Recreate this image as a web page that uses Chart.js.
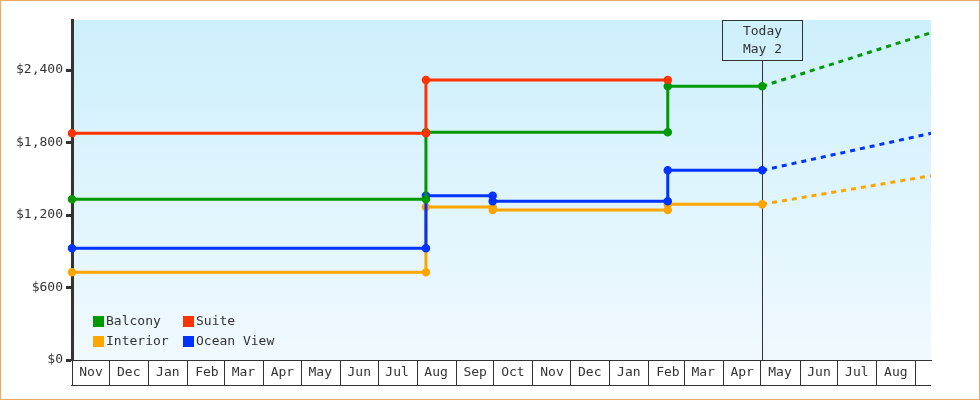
<!DOCTYPE html>
<html>
<head>
<meta charset="utf-8">
<script src="https://cdn.jsdelivr.net/npm/chart.js@4/dist/chart.umd.min.js"></script>
<style>
  html, body { margin: 0; padding: 0; background: #fff; }
  #wrap { width: 980px; height: 400px; }
</style>
</head>
<body>
<div id="wrap"><canvas id="chart" width="980" height="400"></canvas></div>
<script>
// ── Data ──────────────────────────────────────────────────────
const startDate = '2023-11-01';
const endDate = '2025-09-13';
const todayDate = '2025-05-02';
const todayLabel = ['Today', 'May 2'];

const monthLabels = ['Nov', 'Dec', 'Jan', 'Feb', 'Mar', 'Apr', 'May', 'Jun', 'Jul', 'Aug', 'Sep', 'Oct',
  'Nov', 'Dec', 'Jan', 'Feb', 'Mar', 'Apr', 'May', 'Jun', 'Jul', 'Aug', ''];
const yTicks = [0, 600, 1200, 1800, 2400];

const suiteDates = ['2023-11-01', '2024-08-08', '2024-08-08', '2025-02-16'];
const suitePrices = [1876, 1876, 2317, 2317];

const balconyDates = ['2023-11-01', '2024-08-08', '2024-08-08', '2025-02-16', '2025-02-16', '2025-05-02'];
const balconyPrices = [1330, 1330, 1884, 1884, 2265, 2265];

const oceanDates = ['2023-11-01', '2024-08-08', '2024-08-08', '2024-09-30', '2024-09-30', '2025-02-16', '2025-02-16', '2025-05-02'];
const oceanPrices = [924, 924, 1360, 1360, 1314, 1314, 1570, 1570];

const interiorDates = ['2023-11-01', '2024-08-08', '2024-08-08', '2024-09-30', '2024-09-30', '2025-02-16', '2025-02-16', '2025-05-02'];
const interiorPrices = [726, 726, 1266, 1266, 1241, 1241, 1289, 1289];

// forecasts run from today to the right edge
const forecastDates = ['2025-05-02', '2025-09-13'];
const balconyForecast = [2265, 2709];
const oceanForecast = [1570, 1876];
const interiorForecast = [1289, 1525];

const legendOrder = ['Balcony', 'Suite', 'Interior', 'Ocean View'];

const COLORS = {
  'Balcony': '#009900',
  'Suite': '#ff3300',
  'Interior': '#ffa500',
  'Ocean View': '#0033ff',
};
const FONT = '"DejaVu Sans Mono", monospace';
const INK = '#333333';

// ── Helpers ──────────────────────────────────────────────────
const ts = s => Date.parse(s + 'T00:00:00Z');
const toPoints = (dates, values) => dates.map((d, i) => ({ x: ts(d), y: values[i] }));

function stepSet(label, dates, values) {
  return {
    label,
    data: toPoints(dates, values),
    borderColor: COLORS[label],
    backgroundColor: COLORS[label],
    borderWidth: 3,
    pointRadius: 3.5,
    pointBorderWidth: 1.5,
    pointBackgroundColor: COLORS[label],
    pointBorderColor: COLORS[label],
    tension: 0,
    clip: false,
  };
}

function forecastSet(label, values) {
  return {
    label: label + ' forecast',
    forecast: true,
    data: toPoints(forecastDates, values),
    borderColor: COLORS[label],
    borderWidth: 3,
    borderDash: [5, 5],
    pointRadius: 0,
    tension: 0,
  };
}

// month-start ticks, Nov 2023 onwards
const monthTicks = monthLabels.map((_, i) => Date.UTC(2023, 10 + i, 1));

// ── Plugins ──────────────────────────────────────────────────
const backdropPlugin = {
  id: 'backdrop',
  beforeDraw(chart) {
    const { ctx, chartArea: a } = chart;
    const g = ctx.createLinearGradient(0, a.top, 0, a.bottom);
    g.addColorStop(0, '#cdf0fc');
    g.addColorStop(1, '#f0f9fe');
    ctx.save();
    ctx.fillStyle = g;
    ctx.fillRect(a.left, a.top, a.right - a.left, a.bottom - a.top);
    ctx.restore();
  },
  beforeDatasetsDraw(chart) {
    // today marker line
    const { ctx, chartArea: a } = chart;
    const x = Math.round(chart.scales.x.getPixelForValue(ts(todayDate))) + 0.5;
    ctx.save();
    ctx.strokeStyle = INK;
    ctx.lineWidth = 1;
    ctx.beginPath();
    ctx.moveTo(x, a.top + 40);
    ctx.lineTo(x, a.bottom);
    ctx.stroke();
    ctx.restore();
  },
  afterDraw(chart) {
    const { ctx, chartArea: a } = chart;
    const xs = chart.scales.x;
    ctx.save();

    // bottom rule of the month cells
    ctx.strokeStyle = INK;
    ctx.lineWidth = 1;
    ctx.beginPath();
    ctx.moveTo(a.left - 1, a.bottom + 25.5);
    ctx.lineTo(a.right, a.bottom + 25.5);
    ctx.stroke();

    // today box
    const tx = Math.round(xs.getPixelForValue(ts(todayDate))) + 0.5;
    ctx.strokeRect(tx - 40, a.top + 0.5, 80, 40);
    ctx.fillStyle = INK;
    ctx.font = '13px ' + FONT;
    ctx.textAlign = 'center';
    ctx.textBaseline = 'middle';
    ctx.fillText(todayLabel[0], tx, a.top + 12);
    ctx.fillText(todayLabel[1], tx, a.top + 30);

    // legend, two columns
    ctx.textAlign = 'left';
    legendOrder.forEach((name, i) => {
      const col = i % 2, row = Math.floor(i / 2);
      const bx = a.left + 21 + col * 90;
      const by = a.top + 296 + row * 20;
      ctx.fillStyle = COLORS[name];
      ctx.fillRect(bx, by, 11, 11);
      ctx.fillStyle = INK;
      ctx.fillText(name, bx + 13, by + 6);
    });

    // outer frame
    ctx.strokeStyle = '#eaa862';
    ctx.strokeRect(0.5, 0.5, chart.width - 1, chart.height - 1);
    ctx.restore();
  },
};

// ── Chart ────────────────────────────────────────────────────
new Chart(document.getElementById('chart'), {
  type: 'line',
  data: {
    datasets: [
      stepSet('Suite', suiteDates, suitePrices),
      stepSet('Balcony', balconyDates, balconyPrices),
      stepSet('Ocean View', oceanDates, oceanPrices),
      stepSet('Interior', interiorDates, interiorPrices),
      forecastSet('Balcony', balconyForecast),
      forecastSet('Ocean View', oceanForecast),
      forecastSet('Interior', interiorForecast),
    ],
  },
  options: {
    responsive: false,
    animation: false,
    devicePixelRatio: 1,
    layout: { padding: { left: 0, top: 20, right: 49, bottom: 0 } },
    plugins: { legend: { display: false }, tooltip: { enabled: false } },
    scales: {
      x: {
        type: 'linear',
        min: ts(startDate),
        max: ts(endDate),
        afterBuildTicks(scale) {
          scale.ticks = monthTicks.map(v => ({ value: v }));
        },
        afterFit(scale) { scale.height = 40; },
        border: { display: true, color: INK, width: 1 },
        grid: {
          drawOnChartArea: false,
          drawTicks: true,
          tickLength: 25,
          tickWidth: 1,
          tickColor: INK,
          color: INK,
        },
        ticks: {
          autoSkip: false,
          maxRotation: 0,
          minRotation: 0,
          padding: -20,
          labelOffset: 19,
          color: INK,
          font: { family: FONT, size: 13 },
          callback: (v, i) => monthLabels[i],
        },
      },
      y: {
        min: 0,
        max: 2814,
        afterBuildTicks(scale) {
          scale.ticks = yTicks.map(v => ({ value: v }));
        },
        afterFit(scale) { scale.width = 72; },
        border: { display: true, color: INK, width: 3 },
        grid: {
          drawOnChartArea: false,
          drawTicks: true,
          tickLength: 6,
          tickWidth: 3,
          tickColor: INK,
        },
        ticks: {
          padding: 3,
          color: INK,
          font: { family: FONT, size: 13 },
          callback: v => '$' + Number(v).toLocaleString('en-US'),
        },
      },
    },
  },
  plugins: [backdropPlugin],
});
</script>
</body>
</html>
